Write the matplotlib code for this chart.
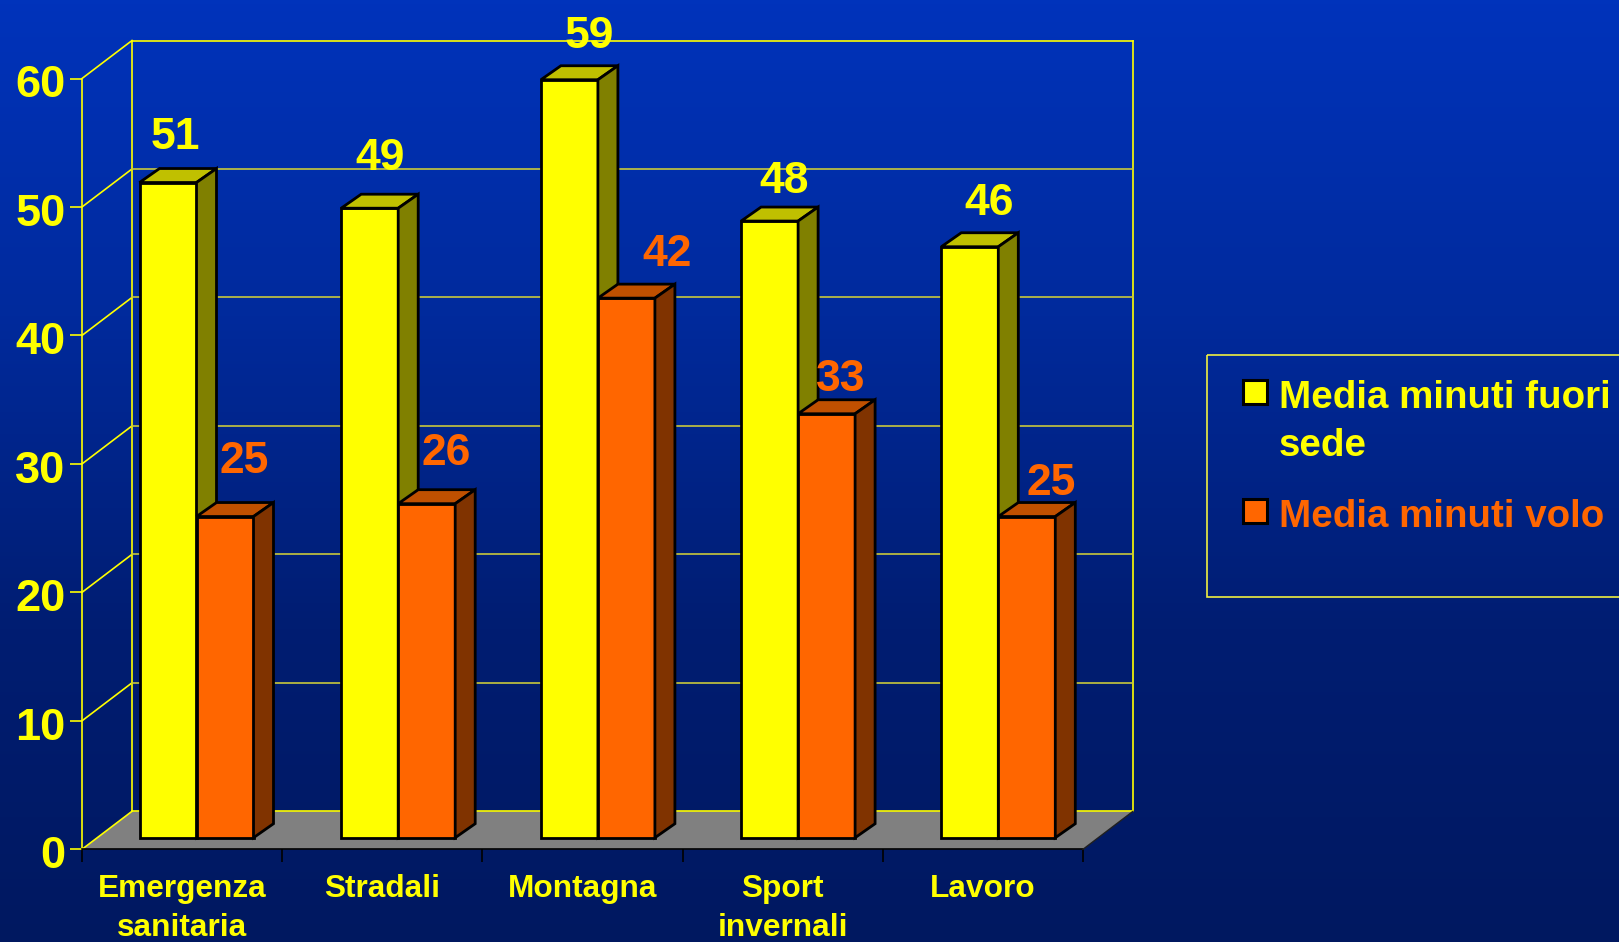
#!/usr/bin/env python3
"""Media minuti fuori sede / volo, fake 3D bars on a blue slide background."""

import matplotlib.pyplot as plt
import numpy as np
from matplotlib.colors import LinearSegmentedColormap
from matplotlib.patches import Polygon, Rectangle
from matplotlib.transforms import ScaledTranslation

plt.rcParams['font.family'] = ['Liberation Sans', 'DejaVu Sans']
plt.rcParams['font.weight'] = 'bold'

categories = ['Emergenza\nsanitaria', 'Stradali', 'Montagna', 'Sport\ninvernali', 'Lavoro']
fuori_sede = [51, 49, 59, 48, 46]
volo = [25, 26, 42, 33, 25]
y_ticks = [0, 10, 20, 30, 40, 50, 60]
series_names = ['Media minuti fuori\nsede', 'Media minuti volo']

YELLOW = '#FFFF00'
ORANGE = '#FF6600'

W, H = 1619, 942
fig = plt.figure(figsize=(W / 100, H / 100), dpi=100)

# Background gradient
bg = fig.add_axes([0, 0, 1, 1], zorder=0)
cmap = LinearSegmentedColormap.from_list('slide', ['#0033BB', '#002A9C', '#001D72', '#001860'])
bg.imshow(np.linspace(0, 1, 256).reshape(-1, 1), aspect='auto', cmap=cmap, extent=[0, W, H, 0])
bg.set_xlim(0, W)
bg.set_ylim(H, 0)
bg.axis('off')

# Axes frame in figure pixels: front plane of the chart box
left, right, y_zero, y_top = 82, 1083, 849.3, 78.5
ax = fig.add_axes([left / W, 1 - y_zero / H, (right - left) / W, (y_zero - y_top) / H], zorder=1)
ax.patch.set_alpha(0)
ax.set_xlim(0, 5)
ax.set_ylim(0, 60)
for s in ax.spines.values():
    s.set_visible(False)

px_x = 5 / (right - left)
px_y = 60 / (y_zero - y_top)
wall_dx, wall_dy = 50 * px_x, 38 * px_y
bar_dx, bar_dy = 20 * px_x, 14 * px_y
bar_w = 57 * px_x
bar_gap = 57.5 * px_x
bar_base = 11.6 * px_y

# Floor
ax.add_patch(Polygon([(0, 0), (5, 0), (5 + wall_dx, wall_dy), (wall_dx, wall_dy)],
                     facecolor='#808080', edgecolor='none', clip_on=False, zorder=1))
ax.plot([0, 5], [0, 0], color='black', lw=1.2, clip_on=False, zorder=2)
ax.plot([5, 5 + wall_dx], [0, wall_dy], color='#202020', lw=1, clip_on=False, zorder=2)

# Walls and gridlines
wall_kw = dict(color=YELLOW, lw=1.2, clip_on=False, zorder=1.5)
ax.plot([0, 0], [0, 60], **wall_kw)
ax.plot([wall_dx, wall_dx], [wall_dy, 60 + wall_dy], **wall_kw)
ax.plot([5 + wall_dx, 5 + wall_dx], [wall_dy, 60 + wall_dy], **wall_kw)
for v in y_ticks:
    ax.plot([0, wall_dx], [v, v + wall_dy], **wall_kw)
    grid_color = YELLOW if v in (0, 60) else '#C8C83C'
    ax.plot([wall_dx, 5 + wall_dx], [v + wall_dy, v + wall_dy], color=grid_color,
            lw=1.2, clip_on=False, zorder=1.5)


def draw_bars(lefts, values, front, top, side):
    ax.bar(lefts, values, bar_w, bottom=bar_base, align='edge', color=front,
           edgecolor='black', linewidth=2, zorder=3, clip_on=False)
    for x, v in zip(lefts, values):
        y = bar_base + v
        ax.add_patch(Polygon([(x, y), (x + bar_w, y), (x + bar_w + bar_dx, y + bar_dy), (x + bar_dx, y + bar_dy)],
                             facecolor=top, edgecolor='black', lw=2, joinstyle='miter', zorder=3, clip_on=False))
        ax.add_patch(Polygon([(x + bar_w, bar_base), (x + bar_w + bar_dx, bar_base + bar_dy),
                              (x + bar_w + bar_dx, y + bar_dy), (x + bar_w, y)],
                             facecolor=side, edgecolor='black', lw=2, joinstyle='miter', zorder=3, clip_on=False))


idx = np.arange(len(categories))
# Groups sit slightly unevenly in the original, small px correction per group
group_shift = np.array([0, 1.5, 1, 1, 1]) * px_x
yellow_left = idx + bar_gap + group_shift
orange_left = yellow_left + bar_w
draw_bars(yellow_left, fuori_sede, YELLOW, '#C0C000', '#808000')
draw_bars(orange_left, volo, ORANGE, '#C05000', '#803300')

# Value labels: nudged individually in the original, offsets in px from the front face
yellow_nudge = [(7, 45), (10, 50), (20, 43), (15, 40), (19, 43)]
orange_nudge = [(19, 55), (19, 50), (41, 44), (14, 34), (24, 33)]
for lefts, values, nudge, color in [(yellow_left, fuori_sede, yellow_nudge, YELLOW),
                                    (orange_left, volo, orange_nudge, ORANGE)]:
    for x, v, (nx, ny) in zip(lefts, values, nudge):
        ax.text(x + bar_w / 2 + nx * px_x, bar_base + v + ny * px_y, str(v), color=color,
                fontsize=32, fontweight='bold', ha='center', va='center', zorder=5, clip_on=False)

# Ticks and labels
ax.set_yticks(y_ticks)
ax.set_yticklabels([str(v) for v in y_ticks], fontsize=32.5, color=YELLOW, fontweight='bold')
ax.tick_params(axis='y', length=9, width=1.2, color=YELLOW, pad=3)
shift_down = ScaledTranslation(0, -2 / 72, fig.dpi_scale_trans)
for lab in ax.get_yticklabels():
    lab.set_transform(lab.get_transform() + shift_down)
ax.set_xticks(np.arange(6))
ax.set_xticklabels([])
ax.tick_params(axis='x', which='major', length=9.5, width=1.2, color='black')
ax.set_xticks(idx + 0.5, minor=True)
ax.set_xticklabels(categories, minor=True, fontsize=22.8, color=YELLOW, fontweight='bold', linespacing=1.36)
ax.tick_params(axis='x', which='minor', length=0, pad=18)

# Legend box runs off the right edge of the slide
bg.add_patch(Rectangle((1207.3, 354.7), 450, 242.3, facecolor='none', edgecolor='#F0F040', lw=1.2, zorder=2))
for y_box, color, y_txt, name in [(380, YELLOW, 380, series_names[0]), (499, ORANGE, 499, series_names[1])]:
    bg.add_patch(Rectangle((1243, y_box), 24, 24, facecolor=color, edgecolor='black', lw=2.2, zorder=3))
    bg.text(1279, y_txt, name, color=color, fontsize=27.7, fontweight='bold', va='top', ha='left',
            linespacing=1.42, zorder=3)

plt.savefig('out.png', dpi=100)
plt.close()
